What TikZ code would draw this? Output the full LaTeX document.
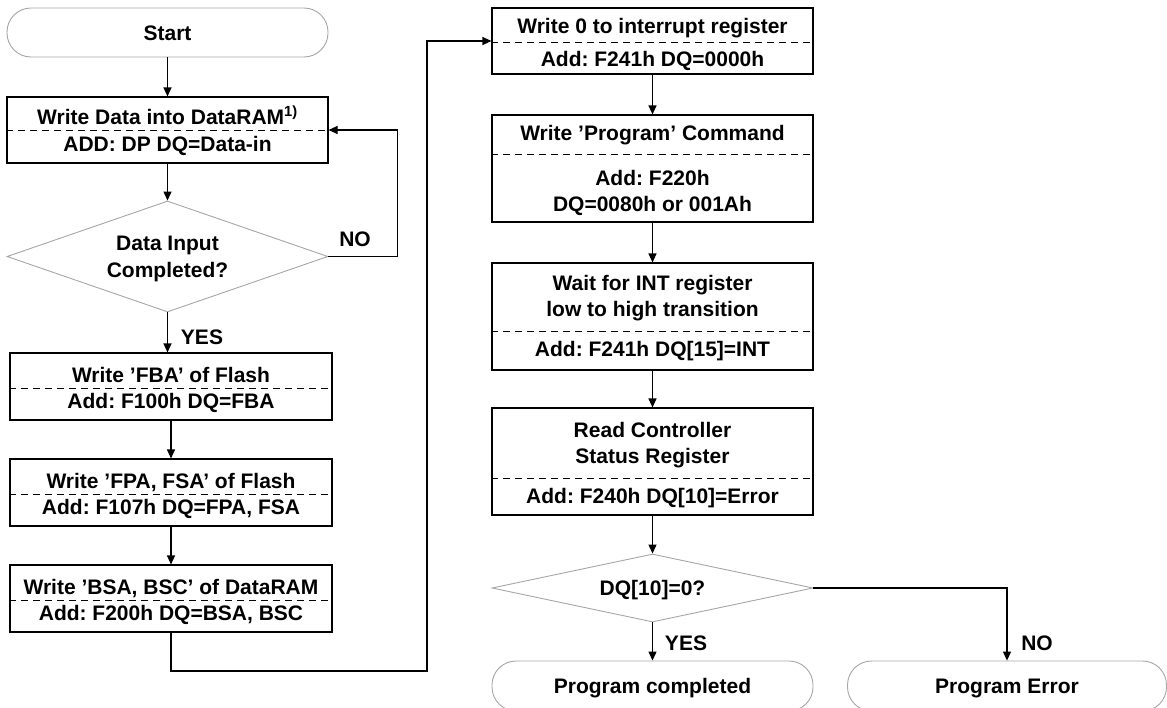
\documentclass[tikz,border=0pt]{standalone}
\usepackage{fontspec}
\setmainfont{Liberation Sans}
\usetikzlibrary{arrows.meta,shapes.geometric}
\begin{document}
\frenchspacing
\begin{tikzpicture}[x=1pt,y=-1pt,
  font=\fontsize{21}{26}\selectfont\bfseries\frenchspacing,
  box/.style={draw=black,line width=1.1pt,minimum width=321pt,inner sep=0pt},
  term/.style={draw=gray!70,line width=0.9pt,rounded corners=24pt,minimum width=321pt,minimum height=49pt,inner sep=0pt,text height=15pt,text depth=0pt},
  dec/.style={draw=gray!70,line width=0.9pt,diamond,inner sep=0pt,minimum width=321pt},
  sep/.style={line width=0.9pt,dash pattern=on 7pt off 5pt},
  txt/.style={inner sep=0pt,text height=15pt,text depth=0pt},
  arr/.style={line width=1.1pt,-{Triangle[length=9pt,width=8pt]}},
  lbl/.style={inner sep=0pt,text height=15pt,text depth=0pt}
]
\useasboundingbox (0,0) rectangle (1167,707);

% left column
\node[term] (start) at (167.5,32.5) {Start};

\node[box,minimum height=66pt] (b1) at (167.5,130) {};
\draw[sep] (b1.west) -- (b1.east);
\node[txt] (b1t) at (167.5,117) {Write Data into DataRAM\textsuperscript{1)}};
\node[txt] (b1b) at (167.5,144) {ADD: DP DQ=Data-in};

\node[dec,minimum height=111pt] (d1) at (167.5,256.5) {};
\node[txt] (d1t) at (167.5,243) {Data Input};
\node[txt] (d1b) at (167.5,270) {Completed?};

\node[box,minimum width=322pt,minimum height=67pt] (fba) at (171,386.5) {};
\draw[sep] ([yshift=-1.5pt]fba.west) -- ([yshift=-1.5pt]fba.east);
\node[txt] (fbat) at (171,375) {Write ’FBA’ of Flash};
\node[txt] (fbab) at (171,401) {Add: F100h DQ=FBA};

\node[box,minimum width=322pt,minimum height=67pt] (fpa) at (171,492.5) {};
\draw[sep] ([yshift=-1.5pt]fpa.west) -- ([yshift=-1.5pt]fpa.east);
\node[txt] (fpat) at (171,481) {Write ’FPA, FSA’ of Flash};
\node[txt] (fpab) at (171,507) {Add: F107h DQ=FPA, FSA};

\node[box,minimum width=322pt,minimum height=67pt] (bsa) at (171,598.5) {};
\draw[sep] ([yshift=-1.5pt]bsa.west) -- ([yshift=-1.5pt]bsa.east);
\node[txt] (bsat) at (171,587) {Write ’BSA, BSC’ of DataRAM};
\node[txt] (bsab) at (171,613) {Add: F200h DQ=BSA, BSC};

% right column
\node[box,minimum height=66pt] (w0) at (652.5,41) {};
\draw[sep] ([yshift=-1pt]w0.west) -- ([yshift=-1pt]w0.east);
\node[txt] (w0t) at (652.5,26) {Write 0 to interrupt register};
\node[txt] (w0b) at (652.5,59) {Add: F241h DQ=0000h};

\node[box,minimum height=107pt] (prog) at (652.5,168.5) {};
\draw[sep] ([yshift=14.5pt]prog.west) -- ([yshift=14.5pt]prog.east);
\node[txt] (progt) at (652.5,133) {Write ’Program’ Command};
\node[txt] (progb) at (652.5,178) {Add: F220h};
\node[txt] (progc) at (652.5,204) {DQ=0080h or 001Ah};

\node[box,minimum height=107pt] (wait) at (652.5,316.5) {};
\draw[sep] ([yshift=-14.5pt]wait.west) -- ([yshift=-14.5pt]wait.east);
\node[txt] (waitt) at (652.5,283) {Wait for INT register};
\node[txt] (waitb) at (652.5,309) {low to high transition};
\node[txt] (waitc) at (652.5,349) {Add: F241h DQ[15]=INT};

\node[box,minimum height=107pt] (read) at (652.5,461.5) {};
\draw[sep] ([yshift=-16.5pt]read.west) -- ([yshift=-16.5pt]read.east);
\node[txt] (readt) at (652.5,430) {Read Controller};
\node[txt] (readb) at (652.5,456) {Status Register};
\node[txt] (readc) at (652.5,496) {Add: F240h DQ[10]=Error};

\node[dec,minimum height=68pt] (d2) at (652.5,588) {};
\node[txt] (d2t) at (652.5,588) {DQ[10]=0?};

\node[term,minimum height=50pt] (done) at (652.5,686) {Program completed};
\node[term,minimum width=319pt,minimum height=50pt] (err) at (1007,686) {Program Error};

% connectors
\draw[arr] (start) -- (b1);
\draw[arr] (b1) -- (d1);
\draw[arr] (d1.east) -- ++(69,0) |- (b1.east);
\draw[arr] (d1.south) -- (d1.south |- fba.north);
\draw[arr] (fba) -- (fpa);
\draw[arr] (fpa) -- (bsa);
\coordinate (ret) at (427,671);
\draw[arr] (bsa.south) |- (ret) |- (w0.west);
\draw[arr] (w0) -- (prog);
\draw[arr] (prog) -- (wait);
\draw[arr] (wait) -- (read);
\draw[arr] (read) -- (d2);
\draw[arr] (d2) -- (done);
\draw[arr] (d2.east) -| (err.north);

% labels
\node[lbl] (no1) at (355,239) {NO};
\node[lbl] (yes1) at (202,337) {YES};
\node[lbl] (yes2) at (686,643) {YES};
\node[lbl] (no2) at (1037,643) {NO};
\end{tikzpicture}
\end{document}
